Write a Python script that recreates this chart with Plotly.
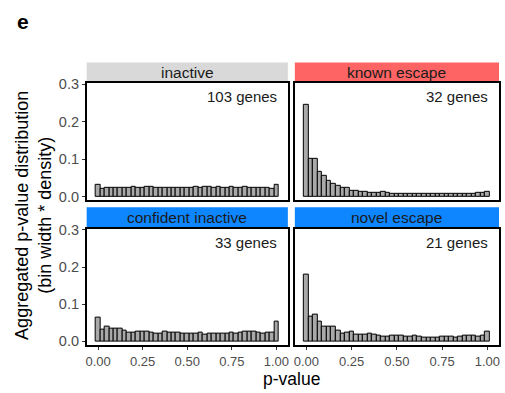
import plotly.graph_objects as go

# ---- data ----
bin_centers = [round(i * 0.025, 3) for i in range(41)]

inactive = [0.030, 0.021, 0.022, 0.022, 0.023, 0.022, 0.024, 0.023, 0.025, 0.023,
            0.024, 0.025, 0.025, 0.024, 0.024, 0.024, 0.024, 0.024, 0.024, 0.024,
            0.024, 0.023, 0.025, 0.024, 0.025, 0.025, 0.023, 0.025, 0.024, 0.024,
            0.025, 0.023, 0.024, 0.025, 0.024, 0.023, 0.024, 0.023, 0.024, 0.021, 0.030]

known_escape = [0.246, 0.101, 0.101, 0.065, 0.056, 0.041, 0.034, 0.028, 0.023, 0.022,
                0.016, 0.015, 0.012, 0.012, 0.011, 0.011, 0.011, 0.012, 0.009, 0.007,
                0.008, 0.007, 0.007, 0.007, 0.006, 0.007, 0.007, 0.008, 0.006, 0.007,
                0.006, 0.007, 0.007, 0.008, 0.008, 0.007, 0.007, 0.007, 0.009, 0.009, 0.012]

confident_inactive = [0.063, 0.032, 0.041, 0.035, 0.035, 0.035, 0.028, 0.024, 0.024, 0.026,
                      0.026, 0.026, 0.024, 0.020, 0.022, 0.025, 0.023, 0.023, 0.023, 0.022,
                      0.021, 0.021, 0.021, 0.023, 0.019, 0.022, 0.021, 0.021, 0.020, 0.020,
                      0.023, 0.021, 0.024, 0.026, 0.026, 0.026, 0.024, 0.022, 0.023, 0.024, 0.052]

novel_escape = [0.180, 0.067, 0.073, 0.054, 0.041, 0.039, 0.041, 0.029, 0.022, 0.023,
                0.026, 0.017, 0.019, 0.017, 0.022, 0.017, 0.016, 0.013, 0.013, 0.015,
                0.015, 0.015, 0.013, 0.013, 0.015, 0.013, 0.011, 0.010, 0.009, 0.009,
                0.013, 0.013, 0.013, 0.011, 0.013, 0.015, 0.015, 0.015, 0.014, 0.015, 0.026]

panel_titles = ["inactive", "known escape", "confident inactive", "novel escape"]
gene_counts = ["103 genes", "32 genes", "33 genes", "21 genes"]
strip_colors = ["#D9D9D9", "#FF6464", "#0D86FF", "#0D86FF"]
y_ticks = [0.0, 0.1, 0.2, 0.3]
x_ticks = [0.0, 0.25, 0.5, 0.75, 1.0]
x_ticklabels = ["0.00", "0.25", "0.50", "0.75", "1.00"]

series = [inactive, known_escape, confident_inactive, novel_escape]

W, H = 505, 393
def px(x):
    return x / W
def py(y):
    return 1 - y / H

x_domains = [[px(86), px(288)], [px(295), px(500)]]
y_domains = [[py(199), py(78)], [py(348), py(228)]]
strip_y = [[py(77), py(57)], [py(227), py(206)]]

fig = go.Figure()
font_family = "Liberation Sans, Arial, Helvetica, sans-serif"

layout = dict(
    width=W, height=H,
    margin=dict(l=0, r=0, t=0, b=0),
    paper_bgcolor="white", plot_bgcolor="white",
    showlegend=False,
    bargap=0,
    font=dict(family=font_family),
    shapes=[], annotations=[],
)

for i, vals in enumerate(series):
    row, col = divmod(i, 2)
    n = i + 1
    xa = "x" if n == 1 else f"x{n}"
    ya = "y" if n == 1 else f"y{n}"
    fig.add_trace(go.Bar(
        x=bin_centers, y=vals, width=0.025,
        marker=dict(color="#A9A9A9", line=dict(color="black", width=1)),
        xaxis=xa, yaxis=ya, hoverinfo="skip",
    ))
    xkey = "xaxis" if n == 1 else f"xaxis{n}"
    ykey = "yaxis" if n == 1 else f"yaxis{n}"
    layout[xkey] = dict(
        domain=x_domains[col], anchor=ya, range=[-0.064, 1.064],
        showgrid=False, zeroline=False, showline=True, mirror=True,
        linecolor="black", linewidth=1.5,
        tickmode="array", tickvals=x_ticks, ticktext=x_ticklabels,
        showticklabels=(row == 1), ticks="outside" if row == 1 else "",
        ticklen=3, tickcolor="#333333",
        tickfont=dict(size=13, color="#4D4D4D", family=font_family),
    )
    layout[ykey] = dict(
        domain=y_domains[row], anchor=xa, range=[-0.0105, 0.3035],
        showgrid=False, zeroline=False, showline=True, mirror=True,
        linecolor="black", linewidth=1.5,
        tickmode="array", tickvals=y_ticks, ticktext=[f"{v:.1f}" for v in y_ticks],
        showticklabels=(col == 0), ticks="outside" if col == 0 else "",
        ticklen=3, tickcolor="#333333",
        tickfont=dict(size=14.5, color="#4D4D4D", family=font_family),
    )
    # strip
    layout["shapes"].append(dict(
        type="rect", xref="paper", yref="paper",
        x0=x_domains[col][0], x1=x_domains[col][1],
        y0=strip_y[row][0], y1=strip_y[row][1],
        fillcolor=strip_colors[i], line=dict(width=0), layer="below",
    ))
    layout["annotations"].append(dict(
        x=(x_domains[col][0] + x_domains[col][1]) / 2,
        y=(strip_y[row][0] + strip_y[row][1]) / 2,
        xref="paper", yref="paper", text=panel_titles[i], showarrow=False,
        font=dict(size=15.5, color="#1A1A1A", family=font_family),
        xanchor="center", yanchor="middle",
    ))
    layout["annotations"].append(dict(
        x=1.012, y=0.266, xref=xa, yref=ya, text=gene_counts[i], showarrow=False,
        font=dict(size=15, color="#1A1A1A", family=font_family),
        xanchor="right", yanchor="middle",
    ))

layout["annotations"].append(dict(
    x=px(292), y=py(382.5), xref="paper", yref="paper", text="p-value",
    showarrow=False, font=dict(size=17.5, color="black", family=font_family),
    xanchor="center", yanchor="middle",
))
layout["annotations"].append(dict(
    x=px(32), y=py(214), xref="paper", yref="paper",
    text="Aggregated p-value distribution<br>(bin width * density)",
    showarrow=False, textangle=-90,
    font=dict(size=18, color="black", family=font_family),
    xanchor="center", yanchor="middle",
))
layout["annotations"].append(dict(
    x=px(14), y=py(15), xref="paper", yref="paper", text="<b>e</b>",
    showarrow=False, font=dict(size=21, color="black", family=font_family),
    xanchor="left", yanchor="middle",
))

fig.update_layout(**layout)
fig.write_html(
    "out.html",
    config={"displayModeBar": False},
    post_script="document.body.style.margin='0';document.body.style.padding='0';",
)
